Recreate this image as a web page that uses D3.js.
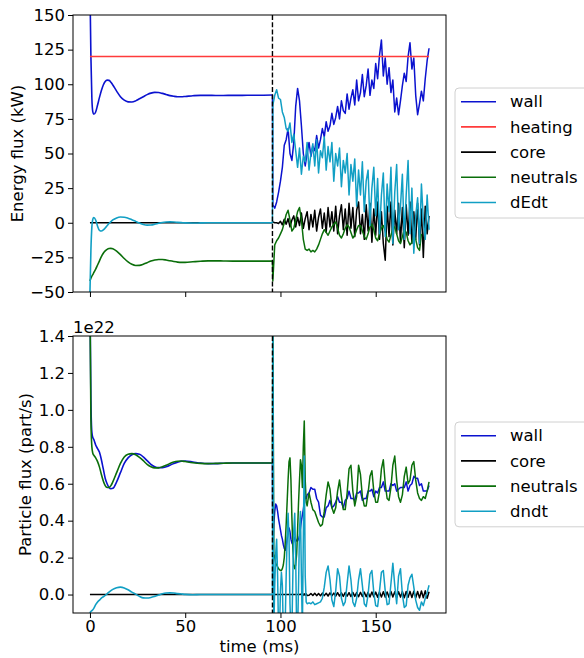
<!DOCTYPE html>
<html>
<head>
<meta charset="utf-8">
<script src="https://cdn.jsdelivr.net/npm/d3@7"></script>
<style>
  body { margin: 0; background: #fff; }
  svg { display: block; font-family: "DejaVu Sans", sans-serif; }
</style>
</head>
<body>
<svg width="584" height="658"></svg>
<script>
//sample times in ms (smooth start, then the noisy part after the switch)
const smoothTime = [0, 0.5, 1, 1.5, 2, 3, 4, 5, 6, 7, 8, 9, 10, 11, 12,
  14, 16, 18, 20, 22, 24, 26, 28, 30, 32, 34, 36, 38, 40, 42, 44, 46, 48, 50,
  54, 58, 62, 66, 70, 75, 80, 85, 90, 95.8];
const switchTime = 95.8;
const energyNoisyTime = d3.range(96, 179);
const particleNoisyTime = d3.range(96, 114, 0.5).concat(d3.range(114, 179));

//energy flux (kW)
const heatingTime = [0, 178];
const heatingPower = [120, 120];
const energyWallSmooth = [170, 120, 90, 80, 78.3,
  80, 85, 90.5, 95.5, 99.5, 102, 103, 102.8, 101.5, 99.5,
  95, 91, 88.5, 87.3, 87.2, 88, 89.5, 91, 92.5, 93.6, 94.1, 94, 93.4, 92.6, 91.8, 91.3, 91, 91, 91.2,
  91.7, 92, 92, 91.9, 91.9, 92, 92, 92.1, 92.1, 92.2];
const energyWallNoisy = [13, 10.5, 15, 22, 30, 40, 56, 60, 68, 50,
  45, 58, 84, 97, 88, 70, 50, 41, 50, 58,
  48, 55, 52, 63, 54, 60, 68, 62, 73, 66,
  70, 79, 71, 76, 84, 75, 88, 81, 79, 93,
  82, 90, 96, 85, 103, 88, 94, 107, 91, 99,
  111, 92, 103, 97, 115, 104, 121, 132, 106, 119,
  100, 112, 94, 103, 80, 90, 78, 88, 99, 108,
  102, 120, 130, 111, 119, 92, 78, 86, 95, 88,
  104, 117, 126];
const energyCoreSmooth = [0, 0, 0, 0, 0, 0, 0, 0, 0, 0, 0, 0, 0, 0, 0,
  0, 0, 0, 0, 0, 0, 0, 0, 0, 0, 0, 0, 0, 0, 0, 0, 0, 0, 0,
  0, 0, 0, 0, 0, 0, 0, 0, 0, 0];
const energyCoreNoisy = [0.5, 0, 0, -0.5, 1, -1.5, 2.5, -1, 3, -3,
  2, 5, -3, 4, -2, 7, -4, 3, 8, -5,
  6, -3, 9, -6, 4, 10, -4, 7, -7, 11,
  -3, 8, -6, 12, -8, 5, 13, -5, 10, -9,
  14, -4, 11, -10, 9, 15, -8, 6, -12, 13,
  -6, 14, -14, 10, -9, 15, -12, 8, -15, -27,
  12, -10, 15, -16, 9, -8, 14, -14, 11, -18,
  13, -9, 15, -15, 8, -12, 14, -16, 10, -25,
  12, -8, 5];
const energyNeutralsSmooth = [-42, -40, -38.5, -37.5, -36,
  -33.5, -30.5, -27.5, -24.5, -22, -20.3, -19.2, -18.6, -18.5, -18.8,
  -20.5, -23, -25.8, -28.2, -30, -30.9, -30.8, -30, -28.8, -27.7, -26.9, -26.5, -26.5, -26.9, -27.5, -28, -28.4, -28.6, -28.6,
  -28.2, -27.8, -27.5, -27.5, -27.6, -27.7, -27.7, -27.7, -27.7, -27.7];
const energyNeutralsNoisy = [-42, -16, -13, -11, -8, -5, 0, 6, 9, 2,
  -6, -4, 2, 8, 11, 2, -12, -19, -20, -19,
  -21, -20, -21, -19, -16, -12, -8, -5, -7, -9,
  -6, -3, -1, 0.5, -4, -9, -11, -8, -4, -1.5,
  -3, -7, -11, -9, -5, -2, -2, -6, -10, -12,
  -8, -3, -1, -5, -11, -13, -8, -4, -2, -6,
  -12, -14, -9, -4, -3, -8, -13, -15, -10, -5,
  -7, -13, -16, -14, -9, -12, -18, -20, -8, null,
  null, null, null];
const energyDedtSmooth = [-50, -20, -3, 2.5, 3.8,
  2, -2.5, -5.5, -6, -5.2, -3.8, -2.2, -0.6, 0.8, 2,
  3.5, 4.1, 4, 3.3, 2.2, 1, -0.2, -1.2, -1.7, -1.6, -1.1, -0.4, 0.2, 0.5, 0.6, 0.5, 0.3, 0.1, -0.1,
  -0.2, -0.1, 0, 0, 0, 0, 0, 0, 0, 0];
const energyDedtNoisy = [85, 92, 96, 90, 89, 80, 76, 68, 66, 72,
  58, 64, 52, 40, 54, 35, 48, 44, 58, 38,
  50, 57, 41, 60, 36, 52, 47, 62, 38, 55,
  44, 58, 30, 50, 41, 54, 26, 45, 36, 50,
  20, 42, 30, 46, 12, 38, 20, 44, 8, 30,
  38, -2, 25, 40, 5, 32, -8, 20, 36, -10,
  28, 8, 40, -15, 22, 42, -5, 12, 35, -12,
  20, 45, -8, 25, -22, 5, 18, -15, 28, 2,
  -12, 20, -5];

//particle flux (1e22 part/s)
const particleWallSmooth = [1.6, 1.05, 0.88, 0.85, 0.84,
  0.81, 0.79, 0.77, 0.73, 0.68, 0.63, 0.6, 0.58, 0.573, 0.575,
  0.61, 0.66, 0.71, 0.74, 0.757, 0.763, 0.76, 0.745, 0.725, 0.705, 0.692, 0.687, 0.687, 0.692, 0.7, 0.71, 0.717, 0.722, 0.723,
  0.718, 0.712, 0.709, 0.709, 0.711, 0.712, 0.712, 0.712, 0.712, 0.712];
const particleWallNoisy = [0.25, 0.38, 0.45, 0.49, 0.48, 0.45, 0.41, 0.38, 0.35, 0.32,
  0.3, 0.27, 0.25, 0.24, 0.26, 0.3, 0.34, 0.36, 0.34, 0.3,
  0.28, 0.27, 0.29, 0.31, 0.3, 0.29, 0.29, 0.3, 0.32, 0.36,
  0.4, 0.43, 0.46, 0.5, 0.53, 0.52, 0.54,
  0.55, 0.58, 0.57, 0.57, 0.52, 0.5, 0.43, 0.42, 0.42, 0.47,
  0.48, 0.51, 0.47, 0.48, 0.5, 0.53, 0.5, 0.5, 0.47, 0.51,
  0.52, 0.56, 0.52, 0.52, 0.51, 0.55, 0.55, 0.56, 0.51, 0.52,
  0.52, 0.56, 0.56, 0.57, 0.53, 0.56, 0.55, 0.58, 0.58, 0.61,
  0.56, 0.56, 0.56, 0.6, 0.59, 0.6, 0.56, 0.57, 0.58, 0.58,
  0.58, 0.61, 0.56, 0.59, 0.6, 0.64, 0.63, 0.63, 0.59, 0.6,
  0.56, 0.56, 0.56, 0.59];
const particleCoreSmooth = [0, 0, 0, 0, 0, 0, 0, 0, 0, 0, 0, 0, 0, 0, 0,
  0, 0, 0, 0, 0, 0, 0, 0, 0, 0, 0, 0, 0, 0, 0, 0, 0, 0, 0,
  0, 0, 0, 0, 0, 0, 0, 0, 0, 0];
const particleCoreNoisy = [0, 0, 0, 0, 0, 0, 0, 0, 0, 0,
  0, 0, 0, 0, 0, 0, 0, 0, 0, 0,
  0, 0, 0, 0, 0, 0, 0, 0, 0, 0.002,
  -0.002, 0.003, -0.003, 0.004, -0.004, 0.004, -0.005,
  -0.004, 0.006, -0.005, 0.007, -0.006, 0.006, -0.007, 0.008, -0.006, 0.007,
  -0.008, 0.009, -0.007, 0.008, -0.009, 0.01, -0.008, 0.009, -0.01, 0.011,
  -0.009, 0.01, -0.011, 0.012, -0.01, 0.011, -0.012, 0.012, -0.011, 0.013,
  -0.012, 0.012, -0.013, 0.014, -0.012, 0.013, -0.014, 0.013, -0.013, 0.015,
  -0.014, 0.014, -0.015, 0.016, -0.013, 0.015, -0.016, 0.015, -0.014, 0.016,
  -0.017, 0.016, -0.015, 0.017, -0.016, 0.018, -0.017, 0.016, -0.018, 0.019,
  -0.017, 0.02, -0.02, 0.015];
const particleNeutralsSmooth = [1.6, 0.95, 0.8, 0.765, 0.755,
  0.74, 0.72, 0.69, 0.65, 0.615, 0.59, 0.58, 0.58, 0.59, 0.61,
  0.66, 0.71, 0.745, 0.76, 0.763, 0.757, 0.743, 0.725, 0.705, 0.692, 0.686, 0.686, 0.692, 0.7, 0.71, 0.718, 0.722, 0.723, 0.72,
  0.714, 0.71, 0.709, 0.71, 0.711, 0.712, 0.712, 0.712, 0.712, 0.712];
const particleNeutralsNoisy = [1.6, 0.22, 0.2, 0.17, 0.16, 0.15, 0.14, 0.135, 0.13, 0.13,
  0.14, 0.16, 0.2, 0.28, 0.38, 0.5, 0.62, 0.72, 0.74, 0.62,
  0.42, 0.25, 0.16, 0.14, 0.16, 0.22, 0.35, 0.5, 0.62, 0.73,
  0.7, 0.58, 0.8, 0.94, 0.62, 0.5, 0.48,
  0.55, 0.5, 0.46, 0.45, 0.42, 0.39, 0.37, 0.38, 0.45, 0.54,
  0.61, 0.57, 0.47, 0.44, 0.47, 0.56, 0.62, 0.53, 0.46, 0.46,
  0.55, 0.68, 0.7, 0.56, 0.48, 0.53, 0.7, 0.65, 0.53, 0.48,
  0.48, 0.55, 0.64, 0.67, 0.56, 0.5, 0.5, 0.56, 0.68, 0.73,
  0.6, 0.52, 0.51, 0.58, 0.7, 0.75, 0.62, 0.53, 0.5, 0.54,
  0.64, 0.69, 0.6, 0.62, 0.7, 0.72, 0.62, 0.55, 0.52, 0.51,
  0.53, 0.52, 0.56, 0.61];
const particleDndtSmooth = [-0.1, -0.092, -0.087, -0.082, -0.075,
  -0.055, -0.04, -0.03, -0.02, -0.012, -0.004, 0.004, 0.013, 0.021, 0.028,
  0.037, 0.04, 0.036, 0.026, 0.013, 0.002, -0.01, -0.018, -0.019, -0.016, -0.01, -0.003, 0.004, 0.008, 0.009, 0.008, 0.005, 0.003, 0.001,
  -0.001, 0, 0, 0, 0, 0, 0, 0, 0, 0];
const particleDndtNoisy = [1.6, -0.2, 0.05, 0.22, 0.3, 0.1, -0.2, -0.2, 0.02, 0.12,
  0.05, -0.2, -0.2, -0.15, 0.1, 0.3, 0.44, 0.3, -0.05, -0.2,
  -0.2, 0.1, 0.35, 0.44, 0.2, -0.2, -0.2, 0.05, 0.35, 0.45,
  0.1, -0.2, 0.3, 0.75, 0.1, -0.04, -0.05,
  -0.045, -0.05, -0.04, -0.055, -0.05, -0.045, -0.04, -0.02, 0.04, 0.12,
  0.155, 0.08, -0.03, -0.065, 0.02, 0.14, 0.1, -0.02, -0.06, -0.04,
  0.06, 0.155, 0.08, -0.04, -0.065, -0.02, 0.08, 0.14, 0.05, -0.05,
  -0.065, 0, 0.11, 0.13, 0.01, -0.06, -0.065, 0.02, 0.12, 0.13,
  0.02, -0.055, -0.05, 0.06, 0.17, 0.05, -0.05, 0.1, 0.14, 0,
  -0.07, -0.06, 0.05, 0.09, 0.11, 0.04, -0.03, -0.07, -0.085, -0.04,
  -0.06, -0.02, 0.01, 0.05];

const energyTicks = [-50, -25, 0, 25, 50, 75, 100, 125, 150];
const particleTicks = [0, 0.2, 0.4, 0.6, 0.8, 1.0, 1.2, 1.4];
const timeTicks = [0, 50, 100, 150];

const colors = {
  wall: "#0b12cf",
  heating: "#ff3b3b",
  core: "#000000",
  neutrals: "#0a6e0a",
  dEdt: "#119fc4",
  dndt: "#119fc4",
};

const svg = d3.select("svg"),
  fontSize = 16.5,
  x = d3.scaleLinear().domain([-8.9, 186.9]).range([73, 446]);

const pairs = (ts, vs) => ts.map((t, i) => ({ t: t, v: vs[i] }));

const drawPanel = (cfg) => {
  const y = d3.scaleLinear().domain(cfg.domain).range([cfg.bottom, cfg.top]);
  const g = svg.append("g");

  //clip lines to the axes box
  g.append("clipPath")
    .attr("id", cfg.id)
    .append("rect")
    .attr("x", x.range()[0])
    .attr("y", cfg.top)
    .attr("width", x.range()[1] - x.range()[0])
    .attr("height", cfg.bottom - cfg.top);

  const plot = g.append("g").attr("clip-path", `url(#${cfg.id})`);
  const smoothLine = d3
    .line()
    .x((d) => x(d.t))
    .y((d) => y(d.v))
    .curve(d3.curveMonotoneX);
  const rawLine = d3
    .line()
    .defined((d) => d.v !== null)
    .x((d) => x(d.t))
    .y((d) => y(d.v));

  cfg.series.forEach((s) => {
    if (s.flat) {
      plot
        .append("path")
        .attr("d", rawLine(pairs(s.flat[0], s.flat[1])))
        .attr("fill", "none")
        .attr("stroke", colors[s.name])
        .attr("stroke-width", 1.6);
      return;
    }
    const last = s.smooth[s.smooth.length - 1];
    plot
      .append("path")
      .attr("d", smoothLine(pairs(smoothTime, s.smooth)))
      .attr("fill", "none")
      .attr("stroke", colors[s.name])
      .attr("stroke-width", 1.6);
    plot
      .append("path")
      .attr("d", rawLine([{ t: switchTime, v: last }].concat(pairs(cfg.noisyTime, s.noisy))))
      .attr("fill", "none")
      .attr("stroke", colors[s.name])
      .attr("stroke-width", 1.5)
      .attr("stroke-linejoin", "round");
  });

  //switch time marker
  plot
    .append("line")
    .attr("x1", x(switchTime))
    .attr("x2", x(switchTime))
    .attr("y1", cfg.top)
    .attr("y2", cfg.bottom)
    .attr("stroke", "#000")
    .attr("stroke-width", 1.4)
    .attr("stroke-dasharray", "5,2.2");

  //axes
  const yAxis = g
    .append("g")
    .attr("transform", `translate(${x.range()[0]},0)`)
    .call(
      d3.axisLeft(y).tickValues(cfg.ticks).tickSize(5).tickPadding(3).tickFormat(cfg.format)
    );
  const xAxis = g
    .append("g")
    .attr("transform", `translate(0,${cfg.bottom})`)
    .call(
      d3
        .axisBottom(x)
        .tickValues(timeTicks)
        .tickSize(5)
        .tickPadding(2)
        .tickFormat(cfg.showTime ? d3.format("d") : () => "")
    );
  [yAxis, xAxis].forEach((a) => {
    a.select(".domain").remove();
    a.selectAll("text")
      .attr("font-size", fontSize)
      .attr("font-family", "DejaVu Sans")
      .attr("fill", "#000");
    a.selectAll("line").attr("stroke", "#000").attr("stroke-width", 1);
  });

  g.append("rect")
    .attr("x", x.range()[0])
    .attr("y", cfg.top)
    .attr("width", x.range()[1] - x.range()[0])
    .attr("height", cfg.bottom - cfg.top)
    .attr("fill", "none")
    .attr("stroke", "#000")
    .attr("stroke-width", 1);

  g.append("text")
    .attr("transform", `translate(${cfg.labelX},${(cfg.top + cfg.bottom) / 2}) rotate(-90)`)
    .attr("text-anchor", "middle")
    .attr("font-size", fontSize)
    .text(cfg.label);

  //legend
  const legend = g.append("g");
  legend
    .append("rect")
    .attr("x", 455)
    .attr("y", cfg.legendTop)
    .attr("width", 140)
    .attr("height", cfg.series.length * 25.2 + 4)
    .attr("rx", 4)
    .attr("fill", "#fff")
    .attr("fill-opacity", 0.8)
    .attr("stroke", "#d0d0d0");
  const items = legend
    .selectAll(".item")
    .data(cfg.series)
    .join("g")
    .attr("class", "item")
    .attr("transform", (d, i) => `translate(0,${cfg.legendTop + 13.7 + i * 25.2})`);
  items
    .append("line")
    .attr("x1", 461)
    .attr("x2", 496)
    .attr("stroke", (d) => colors[d.name])
    .attr("stroke-width", 1.6);
  items
    .append("text")
    .attr("x", 510)
    .attr("dy", "0.35em")
    .attr("font-size", fontSize)
    .text((d) => d.name);
};

drawPanel({
  id: "clip-energy",
  top: 15,
  bottom: 292,
  domain: [-50, 150],
  ticks: energyTicks,
  format: d3.format("d"),
  noisyTime: energyNoisyTime,
  label: "Energy flux (kW)",
  labelX: 23,
  legendTop: 88,
  series: [
    { name: "wall", smooth: energyWallSmooth, noisy: energyWallNoisy },
    { name: "heating", flat: [heatingTime, heatingPower] },
    { name: "core", smooth: energyCoreSmooth, noisy: energyCoreNoisy },
    { name: "neutrals", smooth: energyNeutralsSmooth, noisy: energyNeutralsNoisy },
    { name: "dEdt", smooth: energyDedtSmooth, noisy: energyDedtNoisy },
  ],
});

drawPanel({
  id: "clip-particle",
  top: 336,
  bottom: 613,
  domain: [-0.1, 1.4],
  ticks: particleTicks,
  format: d3.format(".1f"),
  noisyTime: particleNoisyTime,
  label: "Particle flux (part/s)",
  labelX: 31,
  legendTop: 422,
  showTime: true,
  series: [
    { name: "wall", smooth: particleWallSmooth, noisy: particleWallNoisy },
    { name: "core", smooth: particleCoreSmooth, noisy: particleCoreNoisy },
    { name: "neutrals", smooth: particleNeutralsSmooth, noisy: particleNeutralsNoisy },
    { name: "dndt", smooth: particleDndtSmooth, noisy: particleDndtNoisy },
  ],
});

//offset text and x label
svg.append("text").attr("x", 73).attr("y", 333).attr("font-size", fontSize).text("1e22");
svg
  .append("text")
  .attr("x", (x.range()[0] + x.range()[1]) / 2)
  .attr("y", 652)
  .attr("text-anchor", "middle")
  .attr("font-size", fontSize)
  .text("time (ms)");
</script>
</body>
</html>
